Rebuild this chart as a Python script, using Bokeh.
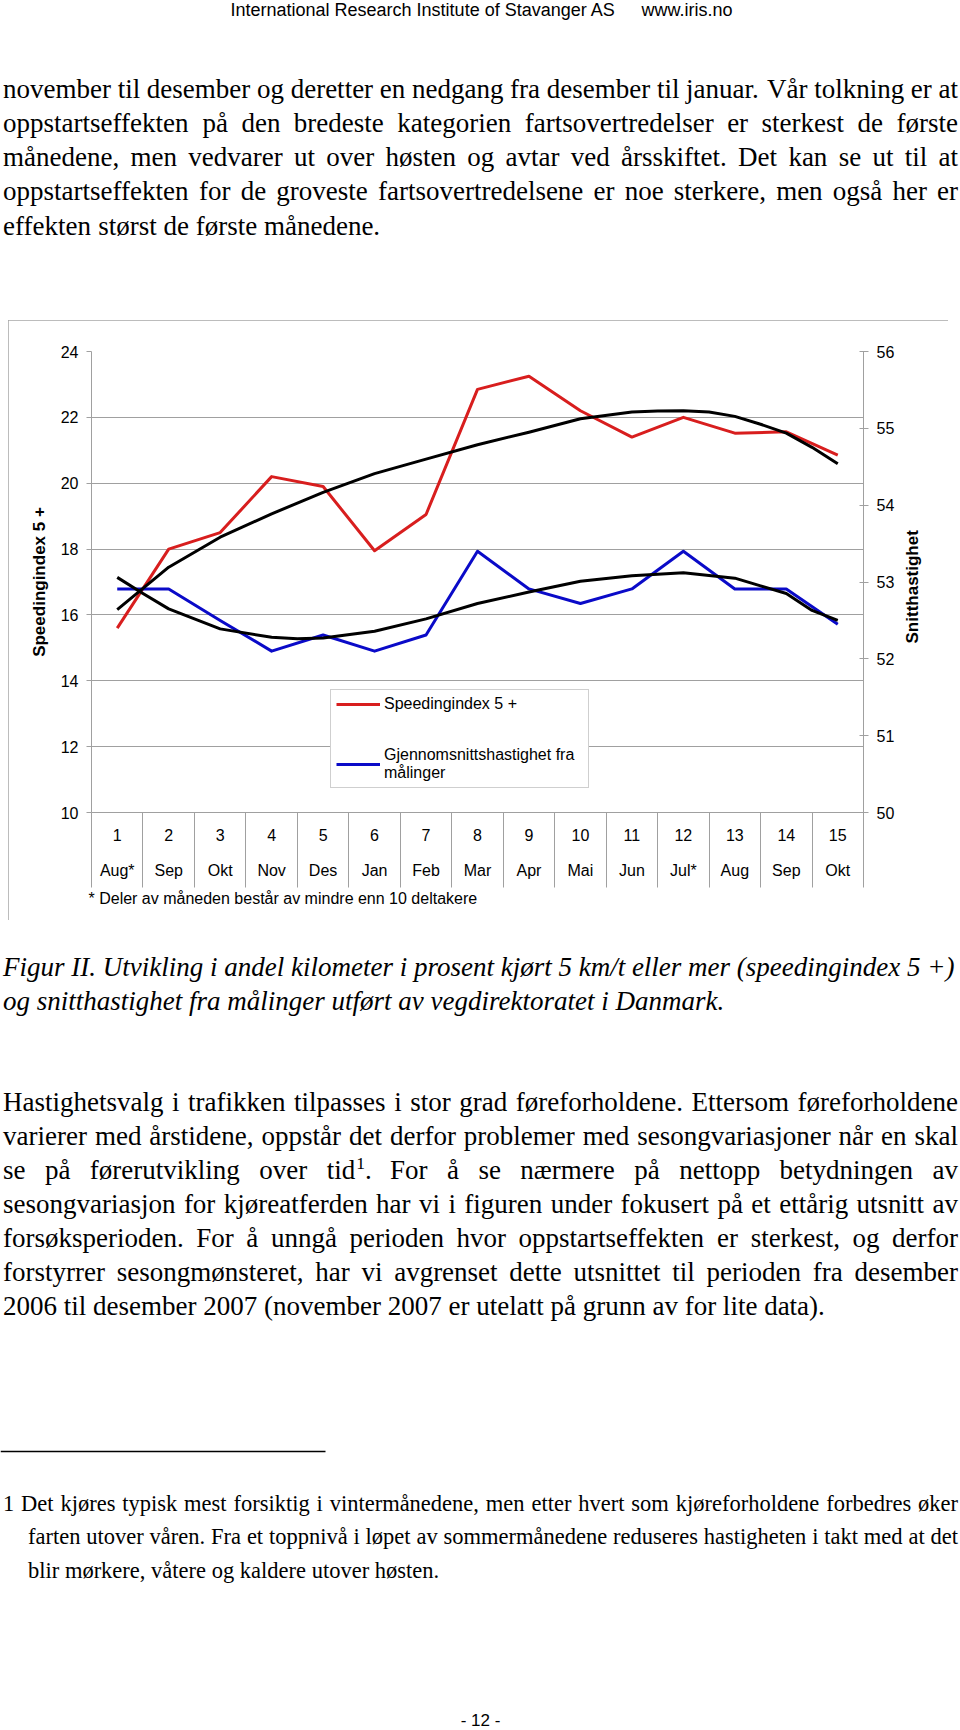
import math
from bokeh.plotting import figure
from bokeh.models import (Range1d, LinearAxis, FixedTicker, Grid, Legend, LegendItem,
                          Title)
from bokeh.core.properties import value
from bokeh.embed import file_html
from bokeh.resources import INLINE

# ---------------- chart data ----------------
month_numbers = list(range(1, 16))
month_labels = ["Aug*", "Sep", "Okt", "Nov", "Des", "Jan", "Feb", "Mar", "Apr",
                "Mai", "Jun", "Jul*", "Aug", "Sep", "Okt"]
speeding_index = [15.6, 18.0, 18.5, 20.2, 19.9, 17.95, 19.05, 22.85, 23.25, 22.2,
                  21.4, 22.0, 21.52, 21.56, 20.85]
avg_speed = [52.91, 52.91, 52.5, 52.1, 52.31, 52.1, 52.31, 53.4, 52.91, 52.72,
             52.91, 53.4, 52.91, 52.91, 52.45]
trend_index_x = [1, 2, 3, 4, 5, 6, 7, 8, 9, 10, 11, 11.5, 12, 12.5, 13, 13.5, 14, 14.5, 15]
trend_index_y = [16.16, 17.45, 18.36, 19.07, 19.72, 20.29, 20.73, 21.17, 21.55, 21.96,
                 22.16, 22.19, 22.2, 22.16, 22.03, 21.79, 21.52, 21.09, 20.59]
trend_speed_x = [1, 1.5, 2, 3, 4, 4.5, 5, 6, 7, 8, 9, 10, 11, 12, 13, 13.5, 14, 14.5, 15]
trend_speed_y = [53.06, 52.85, 52.65, 52.39, 52.28, 52.26, 52.27, 52.36, 52.52, 52.72,
                 52.87, 53.01, 53.08, 53.12, 53.05, 52.95, 52.85, 52.63, 52.50]
left_ticks = [10, 12, 14, 16, 18, 20, 22, 24]
right_ticks = [50, 51, 52, 53, 54, 55, 56]
left_title = "Speedingindex 5 +"
right_title = "Snitthastighet"
legend_labels = ["Speedingindex 5 +", "Gjennomsnittshastighet fra\nmålinger"]
chart_note = "* Deler av måneden består av mindre enn 10 deltakere"

# ---------------- page text ----------------
header_left = "International Research Institute of Stavanger AS"
header_right = "www.iris.no"
para1 = [
    "november til desember og deretter en nedgang fra desember til januar. Vår tolkning er at",
    "oppstartseffekten på den bredeste kategorien fartsovertredelser er sterkest de første",
    "månedene, men vedvarer ut over høsten og avtar ved årsskiftet. Det kan se ut til at",
    "oppstartseffekten for de groveste fartsovertredelsene er noe sterkere, men også her er",
    "effekten størst de første månedene.",
]
caption = [
    "Figur II. Utvikling i andel kilometer i prosent kjørt 5 km/t eller mer (speedingindex 5 +)",
    "og snitthastighet fra målinger utført av vegdirektoratet i Danmark.",
]
para2 = [
    "Hastighetsvalg i trafikken tilpasses i stor grad føreforholdene. Ettersom føreforholdene",
    "varierer med årstidene, oppstår det derfor problemer med sesongvariasjoner når en skal",
    "se på førerutvikling over tid^1. For å se nærmere på nettopp betydningen av",
    "sesongvariasjon for kjøreatferden har vi i figuren under fokusert på et ettårig utsnitt av",
    "forsøksperioden. For å unngå perioden hvor oppstartseffekten er sterkest, og derfor",
    "forstyrrer sesongmønsteret, har vi avgrenset dette utsnittet til perioden fra desember",
    "2006 til desember 2007 (november 2007 er utelatt på grunn av for lite data).",
]
footnote = [
    "1 Det kjøres typisk mest forsiktig i vintermånedene, men etter hvert som kjøreforholdene forbedres øker",
    "farten utover våren. Fra et toppnivå i løpet av sommermånedene reduseres hastigheten i takt med at det",
    "blir mørkere, våtere og kaldere utover høsten.",
]
page_number = "- 12 -"

# ---------------- font metrics (Times, per 1000 em) ----------------
def _table(groups):
    d = {}
    for chars, w in groups:
        for c in chars:
            d[c] = w
    return d

ROMAN = _table([(" .,", 250), ("ijlt/:;", 278), ("fr()-I", 333), ("sJ", 389),
                ("acezå", 444), ("bdghknopquvxyø0123456789*", 500), ("+", 564),
                ("FPS", 556), ("ELTZ", 611), ("BCRæ", 667),
                ("ADGHKNOQUVXYwØÅ", 722), ("m", 778), ("M", 889), ("W", 944)])

SERIF = "Liberation Serif, Times New Roman, serif"
SANS = "Liberation Sans"


def tw(s, table, size):
    return sum(table.get(c, 500) for c in s) * size / 1000.0


class Batch:
    def __init__(self):
        self.groups = {}

    def add(self, x, y, t, font, size, style="normal", align="left"):
        key = (font, size, style, align)
        g = self.groups.setdefault(key, ([], [], []))
        g[0].append(x)
        g[1].append(y)
        g[2].append(t)

    def draw(self, fig):
        for (font, size, style, align), (xs, ys, ts) in self.groups.items():
            fig.text(x=xs, y=ys, text=ts, text_font=value(font),
                     text_font_size=value(f"{size}px"), text_font_style=style,
                     text_align=align, text_baseline="middle", text_color="black")


def word_width(w, table, size):
    if "^" in w:
        base, rest = w.split("^", 1)
        sup, tail = rest[0], rest[1:]
        return tw(base, table, size) + tw(sup, table, size * 0.65) + tw(tail, table, size)
    return tw(w, table, size)


def place_word(batch, w, x, y, table, size, style, align="left"):
    if "^" in w:
        base, rest = w.split("^", 1)
        sup, tail = rest[0], rest[1:]
        batch.add(x, y, base, SERIF, size, style)
        x2 = x + tw(base, table, size)
        batch.add(x2 + 1, y - size * 0.24, sup, SERIF, round(size * 0.65, 1), style)
        x3 = x2 + tw(sup, table, size * 0.65) + 1
        batch.add(x3, y, tail, SERIF, size, style)
    else:
        batch.add(x, y, w, SERIF, size, style, align)


def paragraph(batch, lines, centers, size, left, right, indents=None):
    """Justified roman paragraph: every line but the last is spread to the right edge."""
    table = ROMAN
    for i, (line, cy) in enumerate(zip(lines, centers)):
        lx = left + (indents[i] if indents else 0)
        words = line.split(" ")
        widths = [word_width(w, table, size) for w in words]
        last = (i == len(lines) - 1)
        if last or len(words) == 1:
            gap = table[" "] * size / 1000.0
        else:
            gap = max((right - lx - sum(widths)) / (len(words) - 1), 0.15 * size)
        x = lx
        for j, (w, wd) in enumerate(zip(words, widths)):
            if not last and j == len(words) - 1 and "^" not in w:
                place_word(batch, w, right, cy, table, size, "normal", align="right")
            else:
                place_word(batch, w, x, cy, table, size, "normal")
            x += wd + gap


def page_fig(y_top, y_bot):
    f = figure(width=960, height=int(y_bot - y_top), x_range=Range1d(0, 960),
               y_range=Range1d(y_bot, y_top), output_backend="svg",
               toolbar_location=None, x_axis_type=None, y_axis_type=None, min_border=0)
    f.outline_line_color = None
    f.background_fill_color = "white"
    f.border_fill_color = "white"
    return f


BODY = 27
FOOT = 22.5
LEFT, RIGHT = 2.5, 957.5

# ---------------- top page part ----------------
top = page_fig(0, 320)
tb = Batch()
tb.add(230, 9.5, header_left, SANS, 18)
tb.add(641, 9.5, header_right, SANS, 18)
paragraph(tb, para1, [88.3, 122.5, 156.7, 190.9, 225.1], BODY, LEFT, RIGHT)
tb.draw(top)

# ---------------- chart ----------------
GRAY = "#a0a0a0"
FS = "16px"

chart = figure(width=940, height=600,
               x_range=Range1d(min(month_numbers) - 0.5, max(month_numbers) + 0.5),
               y_range=Range1d(min(left_ticks), max(left_ticks)), output_backend="svg",
               toolbar_location=None, x_axis_type=None, y_axis_type=None,
               min_border_left=83, min_border_right=85, min_border_top=31,
               min_border_bottom=108, margin=(0, 0, 0, 8),
               styles={"outline": "1px solid #a6a6a6", "outline-offset": "-1px"})
chart.outline_line_color = None
chart.background_fill_color = "white"
chart.border_fill_color = "white"
chart.extra_y_ranges = {"speed": Range1d(min(right_ticks), max(right_ticks))}

lax = LinearAxis(ticker=FixedTicker(ticks=left_ticks), axis_label=left_title)
rax = LinearAxis(ticker=FixedTicker(ticks=right_ticks), y_range_name="speed")
for ax, tin in ((lax, 0), (rax, 4)):
    ax.axis_line_color = GRAY
    ax.major_tick_line_color = GRAY
    ax.minor_tick_line_color = None
    ax.major_tick_out = 5
    ax.major_tick_in = tin
    ax.major_label_standoff = 8
    ax.major_label_text_font = SANS
    ax.major_label_text_font_size = FS
    ax.major_label_text_color = "black"
lax.axis_label_text_font = SANS
lax.axis_label_text_font_size = "17px"
lax.axis_label_text_font_style = "bold"
lax.axis_label_text_color = "black"
lax.axis_label_standoff = 9
chart.add_layout(lax, "left")
chart.add_layout(rax, "right")

# right-hand title, written bottom-to-top like the left one (starts just below mid-axis)
title_start = 52.2
rtitle = LinearAxis(ticker=FixedTicker(ticks=[title_start]), y_range_name="speed",
                    major_label_overrides={title_start: right_title},
                    major_label_orientation=math.pi / 2)
rtitle.axis_line_color = None
rtitle.major_tick_line_color = None
rtitle.minor_tick_line_color = None
rtitle.major_tick_out = 0
rtitle.major_tick_in = 0
rtitle.major_label_standoff = 15
rtitle.major_label_text_font = SANS
rtitle.major_label_text_font_size = "17px"
rtitle.major_label_text_font_style = "bold"
rtitle.major_label_text_color = "black"
chart.add_layout(rtitle, "right")

chart.add_layout(Grid(dimension=1, ticker=FixedTicker(ticks=left_ticks),
                      grid_line_color=GRAY, grid_line_width=1))

# category axis: numbers with separators (long minor ticks), then month names
separators = [m - 0.5 for m in month_numbers] + [max(month_numbers) + 0.5]
num_axis = LinearAxis(ticker=FixedTicker(ticks=month_numbers, minor_ticks=separators))
num_axis.axis_line_color = GRAY
num_axis.major_tick_line_color = None
num_axis.major_tick_out = 0
num_axis.major_tick_in = 0
num_axis.minor_tick_line_color = GRAY
num_axis.minor_tick_out = 75
num_axis.minor_tick_in = 0
num_axis.major_label_standoff = -59
num_axis.major_label_text_font = SANS
num_axis.major_label_text_font_size = FS
num_axis.major_label_text_color = "black"
chart.add_layout(num_axis, "below")

mon_axis = LinearAxis(ticker=FixedTicker(ticks=month_numbers),
                      major_label_overrides={m: lab for m, lab in zip(month_numbers, month_labels)})
mon_axis.axis_line_color = None
mon_axis.major_tick_line_color = None
mon_axis.minor_tick_line_color = None
mon_axis.major_tick_out = 0
mon_axis.major_tick_in = 0
mon_axis.major_label_standoff = 18
mon_axis.major_label_text_font = SANS
mon_axis.major_label_text_font_size = FS
mon_axis.major_label_text_color = "black"
chart.add_layout(mon_axis, "below")

chart.add_layout(Title(text=chart_note, align="left", offset=-3, vertical_align="top",
                       standoff=16, text_font=SANS, text_font_size=FS,
                       text_font_style="normal", text_color="black"), "below")

RED = "#D81E1E"
BLUE = "#0A0AC8"
r_red = chart.line(month_numbers, speeding_index, line_color=RED, line_width=3, line_join="round")
r_blue = chart.line(month_numbers, avg_speed, line_color=BLUE, line_width=3,
                    line_join="round", y_range_name="speed")
chart.line(trend_index_x, trend_index_y, line_color="black", line_width=3, line_join="round")
chart.line(trend_speed_x, trend_speed_y, line_color="black", line_width=3,
           line_join="round", y_range_name="speed")

legend = Legend(items=[LegendItem(label=legend_labels[0], renderers=[r_red]),
                       LegendItem(label=legend_labels[1], renderers=[r_blue])],
                location=(239, 24), margin=0, padding=5, spacing=33,
                glyph_width=44, glyph_height=18, label_height=18, label_width=199,
                label_standoff=4, border_line_color=GRAY, border_line_width=1,
                background_fill_color="white", background_fill_alpha=1.0,
                label_text_font=SANS, label_text_font_size=FS, label_text_color="black")
chart.add_layout(legend)

# ---------------- bottom page part ----------------
bottom = page_fig(920, 1730)
bb = Batch()
# italic caption: its first line already fills the text width at natural spacing
for line, cy in zip(caption, [966.3, 1000.0]):
    bb.add(LEFT, cy, line, SERIF, BODY, "italic")
paragraph(bb, para2, [1101.2, 1135.2, 1169.2, 1203.2, 1237.2, 1271.2, 1305.2],
          BODY, LEFT, RIGHT)
bottom.segment(x0=[0], y0=[1451], x1=[325], y1=[1451], line_color="black", line_width=1.5)
paragraph(bb, footnote, [1502.8, 1536.4, 1570.0], FOOT, LEFT, RIGHT, indents=[0, 25, 25])
bb.add(480, 1720, page_number, SANS, 17, "normal", "center")
bb.draw(bottom)

open("out.html", "w").write(file_html([top, chart, bottom], INLINE))
